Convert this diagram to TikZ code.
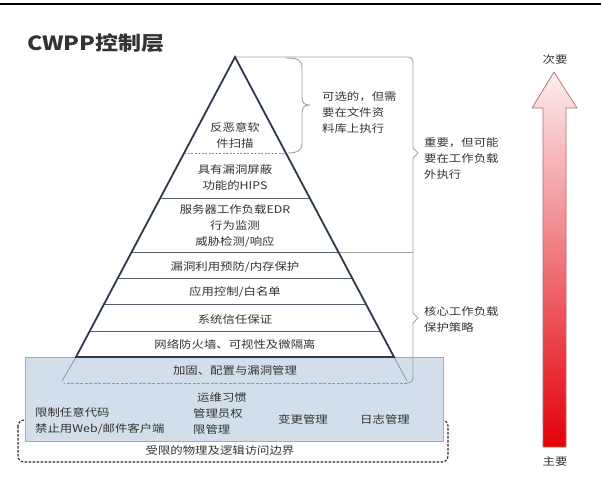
\documentclass[tikz,border=0pt]{standalone}
\usepackage{fontspec}
\setmainfont{Noto Sans CJK SC}[FakeStretch=1.18]
\definecolor{txt}{HTML}{333333}
\definecolor{pyr}{HTML}{2C3A4C}
\definecolor{lay}{HTML}{55606C}
\definecolor{brc}{HTML}{A0A0A0}
\definecolor{ext}{HTML}{8E9AA6}
\definecolor{boxfill}{HTML}{D2DFEA}
\definecolor{boxline}{HTML}{A2ACB6}
\definecolor{arrlo}{HTML}{E30008}
\definecolor{arrhi}{HTML}{FDEDEE}
\definecolor{arrline}{HTML}{B46A6A}
\begin{document}
\begin{tikzpicture}[x=1pt,y=-1pt,
  lbl/.style={font=\fontsize{10.5}{16}\selectfont, text=txt, inner sep=0pt, align=center},
  lbll/.style={lbl, align=left, anchor=west},
  layer/.style={draw=lay, line width=0.8pt},
  bracepath/.style={draw=brc, line width=0.9pt},
  extline/.style={draw=ext, line width=0.8pt}]
\useasboundingbox (0,0) rectangle (601,490);
% top rule
\draw[line width=1.5pt] (0,4) -- (601,4);
% title
\node[anchor=west, inner sep=0pt, text=txt, font=\fontsize{19.5}{19.5}\bfseries\selectfont] (title) at (27,43) {CWPP控制层};

% dashed boundary (behind blue box)
\draw[dashed, dash pattern=on 2.5pt off 1.5pt, line width=1.1pt, rounded corners=6pt, draw=black!85] (18,420) rectangle (448,462);
% blue box
\draw[fill=boxfill, draw=boxline, line width=0.8pt] (25,357) rectangle (443,441);

% pyramid
\coordinate (apex) at (235,57);
\coordinate (bl) at (76,357);
\coordinate (br) at (394,357);
\fill[white] (apex) -- (bl) -- (br) -- cycle;

% braces
\draw[bracepath] (apex) -- (407,57) .. controls (411,57) and (413,59) .. (413,63) -- (413,148) -- (418,153) -- (413,158) -- (413,313) -- (418,318) -- (413,323) -- (413,377) .. controls (413,381) and (411,383) .. (407,383);
\draw[bracepath] (286,58) .. controls (298,58) and (302,60) .. (302,68) -- (302,97) .. controls (302,102) and (304,105) .. (309,105) .. controls (304,105) and (302,108) .. (302,113) -- (302,143) .. controls (302,150) and (298,153) .. (288,153);
\draw[bracepath] (338,252) -- (413,252);

% extension of pyramid into the blue box
\draw[extline] (bl) -- (62,381);
\draw[extline] (br) -- (407,381);
\draw[extline, dashed, dash pattern=on 3pt off 1.5pt] (407,383) -- (64,383);

% layer lines
\draw[layer, dashed, dash pattern=on 2pt off 1.5pt, draw=lay!70] (184,153) -- (286,153);
\draw[layer] (160,198) -- (310,198);
\draw[layer] (132,252) -- (338,252);
\draw[layer] (118,278) -- (352,278);
\draw[layer] (104,304) -- (366,304);
\draw[layer] (90,331) -- (380,331);

% pyramid outline
\draw[pyr, line width=1.8pt, line join=miter] (apex) -- (bl) -- (br) -- cycle;

% pyramid texts
\node[lbl] (l1) at (235,135) {反恶意软\\件扫描};
\node[lbl] (l2) at (235,178) {具有漏洞屏蔽\\功能的HIPS};
\node[lbl] (l3) at (235,226) {服务器工作负载EDR\\行为监测\\威胁检测/响应};
\node[lbl] (l4) at (235,267) {漏洞利用预防/内存保护};
\node[lbl] (l5) at (235,292) {应用控制/白名单};
\node[lbl] (l6) at (235,319) {系统信任保证};
\node[lbl] (l7) at (235,344) {网络防火墙、可视性及微隔离};
\node[lbl] (l8) at (235,370) {加固、配置与漏洞管理};

% brace labels
\node[lbll] (b1) at (322,113) {可选的，但需\\要在文件资\\料库上执行};
\node[lbll] (b2) at (424,159) {重要，但可能\\要在工作负载\\外执行};
\node[lbll] (b3) at (424,319) {核心工作负载\\保护策略};

% blue box texts
\node[lbll] (k1) at (35,421) {限制任意代码\\禁止用Web/邮件客户端};
\node[lbl] (k2) at (222,398) {运维习惯};
\node[lbll] (k3) at (193,421) {管理员权\\限管理};
\node[lbl] (k4) at (303,419) {变更管理};
\node[lbl] (k5) at (385,419) {日志管理};
\node[lbl] (k6) at (220,451) {受限的物理及逻辑访问边界};

% priority arrow
\shade[top color=arrhi, bottom color=arrlo] (543,447) -- (543,108) -- (532,108) -- (554,72) -- (577,108) -- (566,108) -- (566,447) -- cycle;
\draw[arrline, line width=0.7pt, line join=miter] (543,447) -- (543,108) -- (532,108) -- (554,72) -- (577,108) -- (566,108) -- (566,447) -- cycle;
\node[lbl] (top) at (555,60) {次要};
\node[lbl] (bot) at (555,462) {主要};
\end{tikzpicture}
\end{document}
